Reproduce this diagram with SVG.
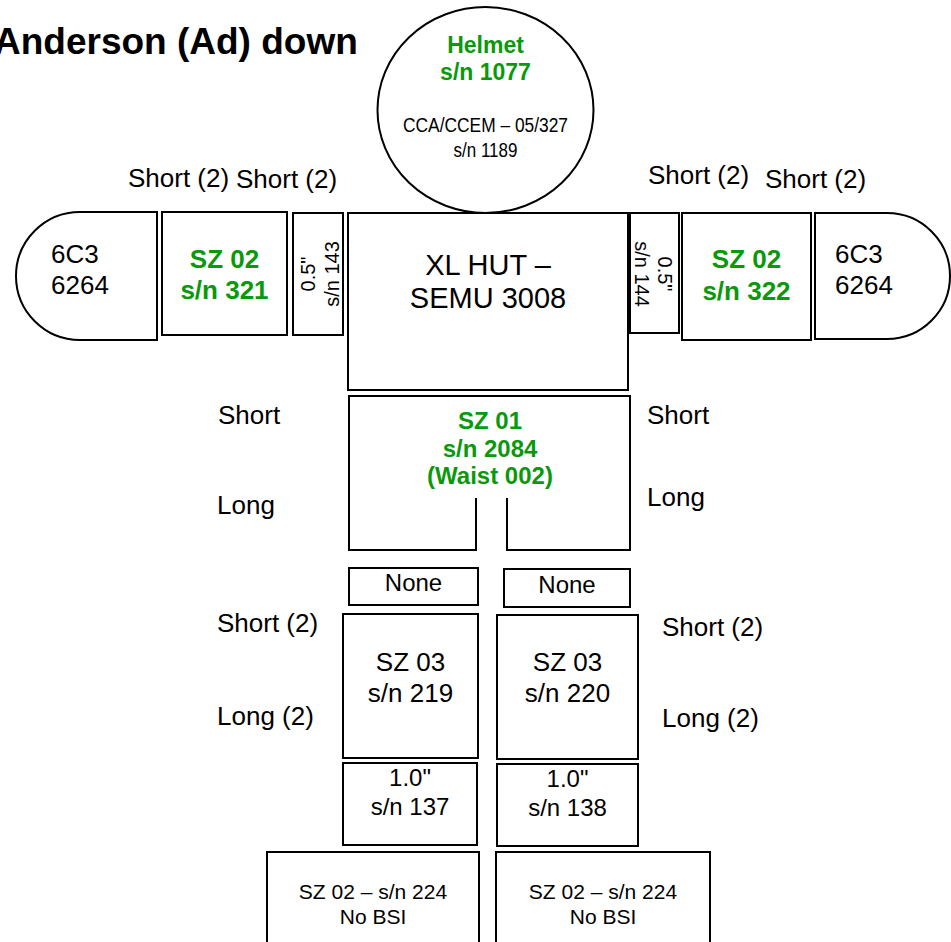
<svg xmlns="http://www.w3.org/2000/svg" width="951" height="942" viewBox="0 0 951 942">
<style>
text{font-family:"Liberation Sans",Arial,sans-serif;fill:#000}
.b{fill:none;stroke:#000;stroke-width:2}
.g{fill:#0a990a;font-weight:bold}
.t26{font-size:26px}
.t24{font-size:24px}
.t20{font-size:20px}
.m{text-anchor:middle}
.nar{font-size:20px}
</style>
<rect width="951" height="942" fill="#fff"/>
<text x="-6" y="54" style="font-size:37px;font-weight:bold">Anderson (Ad) down</text>

<g id="helmet">
<ellipse class="b" cx="485.5" cy="110" rx="108" ry="103" fill="#fff"/>
<text class="g m" x="485.5" y="53" style="font-size:23px">Helmet</text>
<text class="g m" x="485.5" y="80" style="font-size:23px">s/n 1077</text>
<text class="nar m" x="485.5" y="132" textLength="165" lengthAdjust="spacingAndGlyphs">CCA/CCEM – 05/327</text>
<text class="nar m" x="485.5" y="157" textLength="64" lengthAdjust="spacingAndGlyphs">s/n 1189</text>
</g>

<g id="labels">
<text class="t26" x="128" y="187">Short (2)</text>
<text class="t26" x="236" y="188">Short (2)</text>
<text class="t26" x="648" y="184">Short (2)</text>
<text class="t26" x="765" y="188">Short (2)</text>
<text class="t26" x="218" y="424">Short</text>
<text class="t26" x="217" y="514">Long</text>
<text class="t26" x="647" y="424">Short</text>
<text class="t26" x="647" y="506">Long</text>
<text class="t26" x="217" y="632">Short (2)</text>
<text class="t26" x="217" y="725">Long (2)</text>
<text class="t26" x="662" y="636">Short (2)</text>
<text class="t26" x="662" y="727">Long (2)</text>
</g>

<g id="torso">
<rect class="b" x="348" y="213" width="280" height="177"/>
<text class="m" x="488" y="275" style="font-size:29px">XL HUT –</text>
<text class="m" x="488" y="308" style="font-size:29px">SEMU 3008</text>
</g>

<g id="left-hand">
<path class="b" d="M157,212 L80,212 A64,64 0 0 0 80,340 L157,340 Z"/>
<text class="t26" x="51" y="263">6C3</text>
<text class="t26" x="51" y="294">6264</text>
</g>
<g id="left-arm">
<rect class="b" x="162" y="212" width="125" height="123"/>
<text class="g t26 m" x="224.5" y="268">SZ 02</text>
<text class="g t26 m" x="224.5" y="299">s/n 321</text>
</g>
<g id="left-spacer">
<rect class="b" x="293" y="213" width="50" height="122"/>
<text class="t20 m" transform="translate(315,274) rotate(-90)">0.5"</text>
<text class="t20 m" transform="translate(339,274) rotate(-90)">s/n 143</text>
</g>

<g id="right-spacer">
<rect class="b" x="630" y="213" width="49" height="120"/>
<text class="t20 m" transform="translate(658,274) rotate(90)">0.5"</text>
<text class="t20 m" transform="translate(635,274) rotate(90)">s/n 144</text>
</g>
<g id="right-arm">
<rect class="b" x="682" y="213" width="129" height="127"/>
<text class="g t26 m" x="746.5" y="268">SZ 02</text>
<text class="g t26 m" x="746.5" y="300">s/n 322</text>
</g>
<g id="right-hand">
<path class="b" d="M815,213 L887,213 A63,63 0 0 1 887,339 L815,339 Z"/>
<text class="t26" x="835" y="263">6C3</text>
<text class="t26" x="835" y="294">6264</text>
</g>

<g id="waist">
<path class="b" d="M476,498 L476,550 L349,550 L349,396 L630,396 L630,550 L507,550 L507,498"/>
<text class="g t24 m" x="490" y="429">SZ 01</text>
<text class="g t24 m" x="490" y="457">s/n 2084</text>
<text class="g t24 m" x="490" y="484">(Waist 002)</text>
</g>

<g id="left-none">
<rect class="b" x="349" y="568" width="129" height="37"/>
<text class="t24 m" x="413.5" y="591">None</text>
</g>
<g id="right-none">
<rect class="b" x="504" y="569" width="126" height="38"/>
<text class="t24 m" x="567" y="593">None</text>
</g>

<g id="left-leg">
<rect class="b" x="343" y="614" width="135" height="144"/>
<text class="t26 m" x="410.5" y="671">SZ 03</text>
<text class="t26 m" x="410.5" y="702">s/n 219</text>
</g>
<g id="right-leg">
<rect class="b" x="497" y="615" width="141" height="144"/>
<text class="t26 m" x="567.5" y="671">SZ 03</text>
<text class="t26 m" x="567.5" y="702">s/n 220</text>
</g>

<g id="left-shin">
<rect class="b" x="343" y="763" width="134" height="82"/>
<text class="t24 m" x="410" y="786">1.0"</text>
<text class="t24 m" x="410" y="815">s/n 137</text>
</g>
<g id="right-shin">
<rect class="b" x="497" y="764" width="141" height="82"/>
<text class="t24 m" x="567.5" y="787">1.0"</text>
<text class="t24 m" x="567.5" y="816">s/n 138</text>
</g>

<g id="left-foot">
<rect class="b" x="267" y="852" width="212" height="110"/>
<text class="m" x="373" y="899" style="font-size:21px">SZ 02 – s/n 224</text>
<text class="m" x="373" y="924" style="font-size:21px">No BSI</text>
</g>
<g id="right-foot">
<rect class="b" x="496" y="852" width="214" height="110"/>
<text class="m" x="603" y="899" style="font-size:21px">SZ 02 – s/n 224</text>
<text class="m" x="603" y="924" style="font-size:21px">No BSI</text>
</g>
<g id="connectors"></g>
</svg>
